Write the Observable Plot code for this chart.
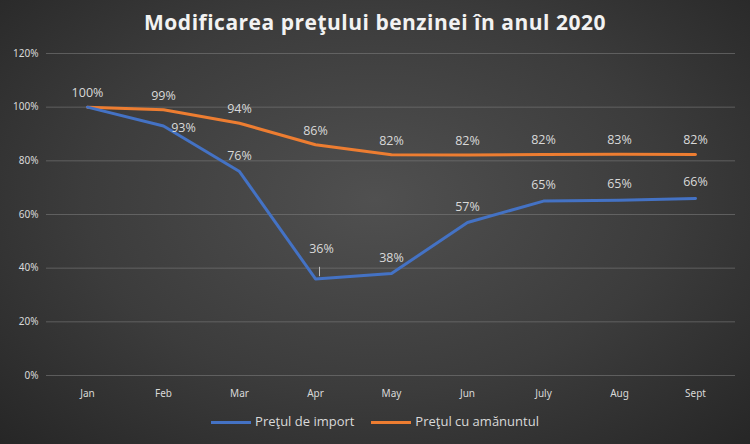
<!DOCTYPE html>
<html><head><meta charset="utf-8">
<script src="https://cdn.jsdelivr.net/npm/d3@7"></script>
<script src="https://cdn.jsdelivr.net/npm/@observablehq/plot@0.6"></script>
<style>
body{margin:0}
#wrap{width:750px;height:444px;background:radial-gradient(ellipse at 50% 45%,#505050 0%,#3c3c3c 55%,#262626 100%);font-family:Calibri,"Liberation Sans",Arial,sans-serif;position:relative;overflow:hidden}
#title{position:absolute;top:8px;width:750px;text-align:center;color:#f2f2f2;font-size:21px;font-weight:bold;font-family:"Open Sans",sans-serif;letter-spacing:0.5px}
#chart{position:absolute;top:45px;left:0}
#legend{position:absolute;top:412px;width:750px;text-align:center;color:#d9d9d9;font-size:13px;font-family:"Open Sans",sans-serif}
.sw{display:inline-block;width:40px;height:3px;vertical-align:middle;margin-right:4px}
</style></head><body>
<div id="wrap"><div id="title">Modificarea preţului benzinei în anul 2020</div><div id="chart"></div>
<div id="legend"><span class="sw" style="background:#4472C4"></span>Preţul de import&nbsp;&nbsp;&nbsp;&nbsp;&nbsp;<span class="sw" style="background:#ED7D31"></span>Preţul cu amănuntul</div></div>
<script>
const months=["Jan","Feb","Mar","Apr","May","Jun","July","Aug","Sept"];
const importVals=[100,93,76,36,38,57,65,65.3,66];
const retailVals=[100,99,94,86,82.3,82.2,82.4,82.5,82.4];
const yTicks=[0,20,40,60,80,100,120];
const imp=months.map((m,i)=>({m,v:importVals[i],i}));
const ret=months.map((m,i)=>({m,v:retailVals[i],i}));
const txt={fill:"#d9d9d9",fontSize:12.5,fontFamily:"Open Sans, sans-serif",text:d=>Math.round(d.v)+"%"};
const chart=Plot.plot({
 width:750,height:360,marginLeft:46,marginRight:15,marginTop:8,marginBottom:30,
 style:{background:"transparent",color:"#d9d9d9",fontSize:"10px"},
 x:{type:"point",domain:months,padding:0.52,label:null,tickSize:0},
 y:{domain:[0,120],ticks:yTicks,tickFormat:d=>d+"%",label:null,tickSize:0},
 marks:[
  Plot.gridY(yTicks,{stroke:"#7a7a7a",strokeOpacity:0.6}),
  Plot.axisX({tickSize:0,fill:"#d9d9d9",fontSize:10,tickPadding:14}),
  Plot.axisY({tickSize:0,fill:"#d9d9d9",fontSize:10,tickFormat:d=>d+"%",ticks:yTicks,tickPadding:8}),
  Plot.line(ret,{x:"m",y:"v",stroke:"#ED7D31",strokeWidth:3}),
  Plot.line(imp,{x:"m",y:"v",stroke:"#4472C4",strokeWidth:3}),
  Plot.text(ret,{x:"m",y:"v",dy:-14,...txt}),
  Plot.text(imp.filter(d=>d.i==1),{x:"m",y:"v",dx:20,dy:2,...txt}),
  Plot.text(imp.filter(d=>d.i==3),{x:"m",y:"v",dx:6,dy:-30,...txt}),
  Plot.text(imp.filter(d=>d.i>1&&d.i!=3),{x:"m",y:"v",dy:-16,...txt}),
  Plot.link(imp.filter(d=>d.i==3),{x1:"m",y1:d=>d.v+1,x2:"m",y2:d=>d.v+4.5,dx:4,stroke:"#bbb"})
 ]});
document.getElementById("chart").append(chart);
</script></body></html>
